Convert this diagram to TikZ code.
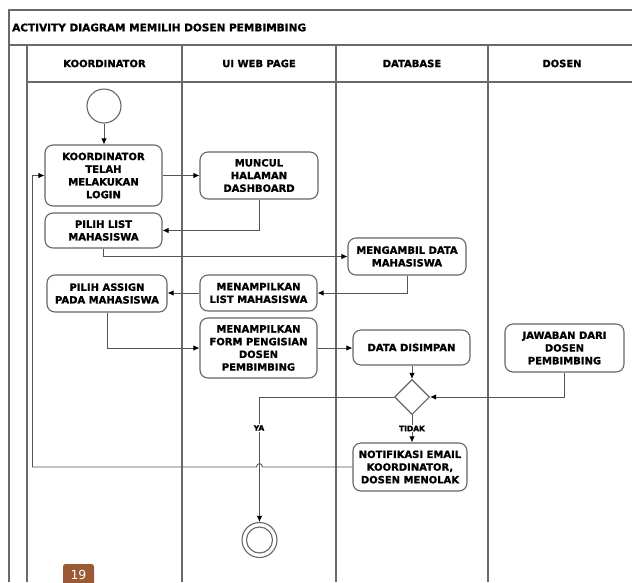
\documentclass[tikz,border=0pt]{standalone}
\usepackage{fontspec}
\setmainfont{DejaVu Sans}[BoldFeatures={FakeBold=1.2}]
\usetikzlibrary{arrows.meta,shapes.geometric}

\definecolor{laneline}{HTML}{6A6A6A}
\definecolor{boxline}{HTML}{666666}
\definecolor{flowline}{HTML}{555555}
\definecolor{badge}{HTML}{9C5A34}

\tikzset{
  lane/.style={draw=laneline, line width=1.4pt},
  act/.style={draw=boxline, line width=1.1pt, rounded corners=8pt, fill=white,
    align=center, inner sep=0pt, text=black,
    font=\bfseries\fontsize{10}{12.7}\selectfont},
  lanehead/.style={font=\bfseries\fontsize{10}{12}\selectfont, text=black},
  flow/.style={draw=flowline, line width=0.9pt, -{Latex[length=6pt,width=5.5pt,fill=black,color=black]}},
  plain/.style={draw=flowline, line width=0.9pt},
  guard/.style={fill=white, inner sep=1pt, font=\bfseries\fontsize{7.5}{8}\selectfont}
}

\begin{document}
\begin{tikzpicture}[x=1pt,y=-1pt]
\useasboundingbox (0,0) rectangle (632,582);

% ---- frame and swimlanes ----
\draw[lane] (9,582) -- (9,10) -- (632,10);
\draw[lane] (9,45) -- (632,45);
\draw[lane] (27,82) -- (632,82);
\foreach \x in {27,182,336,488} \draw[lane] (\x,45) -- (\x,582);

\node[anchor=west, font=\bfseries\fontsize{10.5}{12}\selectfont, inner sep=0pt] (title) at (12,27.5)
  {ACTIVITY DIAGRAM MEMILIH DOSEN PEMBIMBING};
\node[lanehead] (hkoor) at (104.5,63.5) {KOORDINATOR};
\node[lanehead] (hui)   at (259,63.5)   {UI WEB PAGE};
\node[lanehead] (hdb)   at (412,63.5)   {DATABASE};
\node[lanehead] (hdos)  at (562,63.5)   {DOSEN};

% ---- activities ----
\node[circle, draw=boxline, line width=1.1pt, fill=white, minimum size=34pt, inner sep=0pt] (start) at (104,106) {};

\node[act, minimum width=117pt, minimum height=61pt] (login) at (103.5,175.5)
  {KOORDINATOR\\TELAH\\MELAKUKAN\\LOGIN};
\node[act, minimum width=118pt, minimum height=47pt] (dash) at (259,175.5)
  {MUNCUL\\HALAMAN\\DASHBOARD};
\node[act, minimum width=117pt, minimum height=35pt] (pilihlist) at (103.5,230.5)
  {PILIH LIST\\MAHASISWA};
\node[act, minimum width=118pt, minimum height=37pt] (ambil) at (407,256.5)
  {MENGAMBIL DATA\\MAHASISWA};
\node[act, minimum width=117pt, minimum height=36pt] (tampil) at (258.5,293)
  {MENAMPILKAN\\LIST MAHASISWA};
\node[act, minimum width=120pt, minimum height=37pt] (assign) at (107,293.5)
  {PILIH ASSIGN\\PADA MAHASISWA};
\node[act, minimum width=117pt, minimum height=60pt] (form) at (258.5,348)
  {MENAMPILKAN\\FORM PENGISIAN\\DOSEN\\PEMBIMBING};
\node[act, minimum width=117pt, minimum height=35pt] (simpan) at (411.5,347.5)
  {DATA DISIMPAN};
\node[act, minimum width=119pt, minimum height=48pt] (jawab) at (564.5,348)
  {JAWABAN DARI\\DOSEN\\PEMBIMBING};
\node[diamond, draw=boxline, line width=1.1pt, fill=white, minimum width=35pt,
  minimum height=35pt, inner sep=0pt] (dec) at (412,397) {};
\node[act, minimum width=114pt, minimum height=48pt] (notif) at (410,467)
  {NOTIFIKASI EMAIL\\KOORDINATOR,\\DOSEN MENOLAK};

\node[circle, draw=boxline, line width=1.1pt, fill=white, minimum size=35pt, inner sep=0pt] (end) at (259.5,540) {};
\node[circle, draw=boxline, line width=1.1pt, minimum size=26pt, inner sep=0pt] (endin) at (end) {};

% ---- control flow ----
\draw[flow] (start.south) -- (start.south |- login.north);
\draw[flow] (login.east) -- (login.east -| dash.west);
\draw[flow] (dash.south) |- (pilihlist.east);
\draw[flow] (pilihlist.south) |- (ambil.west);
\draw[flow] (ambil.south) |- (tampil.east);
\draw[flow] (tampil.west) -- (tampil.west -| assign.east);
\draw[flow] (assign.south) |- (form.west);
\draw[flow] (form.east) -- (form.east -| simpan.west);
\draw[flow] (simpan.south -| dec.north) -- (dec.north);
\draw[flow] (jawab.south) |- (dec.east);
\draw[flow] (dec.west) -| (end.north);
\draw[flow] (dec.south) -- (notif.north -| dec.south);

% rejection loop back to the coordinator, hopping over the "YA" branch
\coordinate (hopR) at (262.5,467);
\coordinate (hopL) at (256.5,467);
\coordinate (loop) at (32,467);
\draw[plain] (notif.west) -- (hopR) .. controls (262.5,462.5) and (256.5,462.5) .. (hopL) -- (loop);
\draw[flow] (loop) |- (login.west);

% guard labels
\node[guard] (ya) at (259,428) {YA};
\node[guard] (tidak) at (412,428.5) {TIDAK};

% page badge
\fill[badge, rounded corners=2.5pt] (63,564) rectangle (94,590);
\node[text=white, anchor=base, inner sep=0pt, font=\fontsize{12.5}{13}\selectfont] (pg) at (78.5,579.5) {19};
\end{tikzpicture}
\end{document}
